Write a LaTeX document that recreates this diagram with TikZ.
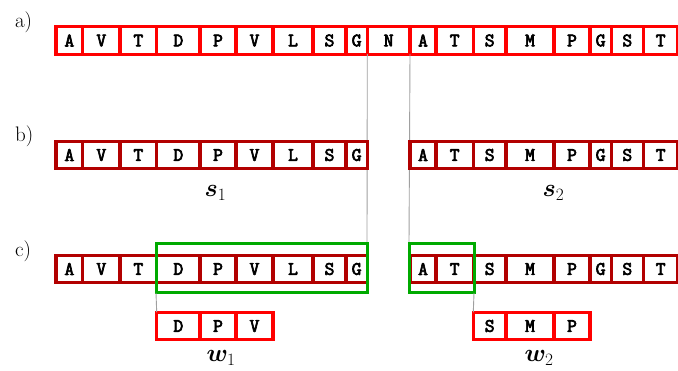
\documentclass[tikz,border=0pt]{standalone}
\usepackage{fontspec}
\usepackage{amsmath,bm}
\newfontfamily\cellfont{Latin Modern Mono}[FakeBold=3.5]
\definecolor{brightred}{HTML}{FF0000}
\definecolor{darkred}{HTML}{B20000}
\definecolor{framegreen}{HTML}{00AA00}
\definecolor{guide}{HTML}{A0A0A0}
\begin{document}
\begin{tikzpicture}[x=1pt,y=-1pt,
  cell/.style={draw, fill=white, line width=3.2pt, inner sep=0pt, outer sep=0pt,
    minimum height=27.5pt, anchor=center,
    font=\fontsize{19}{22}\selectfont\cellfont},
  cellA/.style={cell, draw=brightred},
  cellB/.style={cell, draw=darkred},
  window/.style={inner sep=0pt, outer sep=0pt},
  greenframe/.style={draw=framegreen, line width=3pt},
  guideline/.style={draw=guide, line width=0.9pt},
  panel/.style={anchor=base west, font=\fontsize{21}{24}\selectfont},
  seqlabel/.style={anchor=base west, font=\fontsize{25}{28}\selectfont}]
\useasboundingbox (0,0) rectangle (678,371);

% frames marking the windows of c)
\node[window, minimum width=211pt, minimum height=49pt] (g1) at (261.5,268.5) {};
\node[window, minimum width=65pt, minimum height=49pt] (g2) at (441.5,268.5) {};

% a) the full sequence
\foreach \i/\t/\l/\r in {1/A/56/82.7, 2/V/82.7/120, 3/T/120/156.7, 4/D/156.7/200,
    5/P/200/236, 6/V/236/273, 7/L/273/313, 8/S/313/346, 9/G/346/367.3,
    10/N/367.3/410, 11/A/410/436, 12/T/436/473.3, 13/S/473.3/506,
    14/M/506/554, 15/P/554/590, 16/G/590/611.3, 17/S/611.3/643.3, 18/T/643.3/678}
  \node[cellA, minimum width={\r-\l}] (a\i) at ({(\l+\r)/2},40.5) {\t};

% guide lines from the cut positions
\draw[guideline] (a10.south west) -- (g1.north east);
\draw[guideline] (a11.south west) -- (g2.north west);

% b) and c) the two pieces
\foreach \row/\y in {b/155, c/269}{
  \foreach \i/\t/\l/\r in {1/A/56/82.7, 2/V/82.7/120, 3/T/120/156.7, 4/D/156.7/200,
      5/P/200/236, 6/V/236/273, 7/L/273/313, 8/S/313/346, 9/G/346/367.3}
    \node[cellB, minimum width={\r-\l}] (\row\i) at ({(\l+\r)/2},\y) {\t};
  \foreach \i/\t/\l/\r in {11/A/410/436, 12/T/436/473.3, 13/S/473.3/506,
      14/M/506/554, 15/P/554/590, 16/G/590/611.3, 17/S/611.3/643.3, 18/T/643.3/678}
    \node[cellB, minimum width={\r-\l}] (\row\i) at ({(\l+\r)/2},\y) {\t};
}

% green frames on top of the cells
\draw[greenframe] (g1.north west) rectangle (g1.south east);
\draw[greenframe] (g2.north west) rectangle (g2.south east);

% extracted windows
\foreach \i/\t/\l/\r in {1/D/156.7/200, 2/P/200/236, 3/V/236/273}
  \node[cellA, minimum width={\r-\l}] (w\i) at ({(\l+\r)/2},326) {\t};
\foreach \i/\t/\l/\r in {1/S/473.3/506, 2/M/506/554, 3/P/554/590}
  \node[cellA, minimum width={\r-\l}] (v\i) at ({(\l+\r)/2},326) {\t};

\draw[guideline] (g1.south west) -- (w1.north west);
\draw[guideline] (g2.south east) -- (v1.north west);

% panel letters and sequence names
\node[panel] (la) at (11.5,28) {a)};
\node[panel] (lb) at (11.5,141.5) {b)};
\node[panel] (lc) at (11.5,257) {c)};
\node[seqlabel] (s1) at (201,196.5) {$\bm{s}_1$};
\node[seqlabel] (s2) at (539,196.5) {$\bm{s}_2$};
\node[seqlabel] (x1) at (203,362) {$\bm{w}_1$};
\node[seqlabel] (x2) at (521,362) {$\bm{w}_2$};
\end{tikzpicture}
\end{document}
